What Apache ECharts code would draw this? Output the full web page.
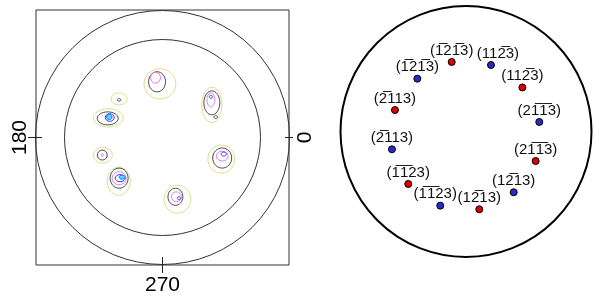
<!DOCTYPE html>
<html>
<head>
<meta charset="utf-8">
<script src="https://cdn.jsdelivr.net/npm/echarts@6/dist/echarts.min.js"></script>
<style>
  html, body { margin: 0; padding: 0; background: #fff; }
  #chart { width: 596px; height: 299px; }
</style>
</head>
<body>
<div id="chart"></div>
<script>
// left pole figure: contour levels as ellipses [x, y, rx, ry] in unit-circle coords
const yellowLevel = [
  [-0.020, 0.421, 0.126, 0.118], [0.390, 0.256, 0.079, 0.138], [-0.343, 0.303, 0.063, 0.047],
  [-0.429, 0.154, 0.118, 0.071], [-0.472, -0.138, 0.075, 0.063], [0.465, -0.169, 0.106, 0.110],
  [-0.346, -0.343, 0.091, 0.110], [0.118, -0.484, 0.106, 0.110]
]
const blackLevel = [
  [-0.043, 0.437, 0.067, 0.079], [0.390, 0.272, 0.063, 0.094], [0.421, 0.161, 0.014, 0.012],
  [-0.343, 0.295, 0.014, 0.010], [-0.433, 0.150, 0.083, 0.051], [-0.476, -0.138, 0.039, 0.039],
  [0.472, -0.161, 0.075, 0.079], [-0.343, -0.319, 0.071, 0.079], [0.102, -0.465, 0.059, 0.067]
]
const pinkLevel = [
  [-0.055, 0.469, 0.039, 0.043], [0.382, 0.295, 0.031, 0.055], [-0.476, -0.138, 0.008, 0.012],
  [0.472, -0.146, 0.047, 0.039], [-0.343, -0.319, 0.055, 0.051], [0.110, -0.465, 0.039, 0.039]
]
const blueLevel = [
  [0.382, 0.319, 0.012, 0.012], [-0.417, 0.157, 0.035, 0.030], [0.484, -0.130, 0.020, 0.016],
  [-0.335, -0.319, 0.039, 0.028], [0.130, -0.476, 0.012, 0.012]
]
const cyanLevel = [
  [-0.421, 0.161, 0.022, 0.020], [-0.319, -0.311, 0.024, 0.016]
]
const leftTickLabels = ['0', '180', '270']

// right projection: poles in unit-circle coords
const redPoints = [[-0.114, 0.554], [0.449, 0.351], [-0.566, 0.171], [0.555, -0.235], [-0.460, -0.418], [0.106, -0.620]]
const redLabels = ['(1\u030521\u03053)', '(112\u03053)', '(2\u0305113)', '(21\u03051\u03053)', '(1\u03051\u030523)', '(12\u030513)']
const bluePoints = [[0.199, 0.530], [-0.388, 0.421], [0.584, 0.076], [-0.590, -0.142], [0.380, -0.484], [-0.205, -0.591]]
const blueLabels = ['(112\u03053)', '(1\u030521\u03053)', '(21\u03051\u03053)', '(2\u0305113)', '(12\u030513)', '(1\u03051\u030523)']

const font = 'Liberation Sans'
// a couple of labels are pushed sideways so they do not overlap
const labelNudge = { blue: { 0: [7, 0], 5: [-5, 0] } }

function ellipseLevel(fill) {
  return function(params, api) {
    const c = api.coord([api.value(0), api.value(1)])
    const s = api.size([api.value(2), api.value(3)])
    return {
      type: 'ellipse',
      shape: { cx: c[0], cy: c[1], rx: s[0], ry: s[1] },
      style: { fill: fill || 'none', stroke: api.visual('color'), lineWidth: 1 }
    }
  }
}

function contourSeries(data, color, fill) {
  return {
    type: 'custom',
    xAxisIndex: 0,
    yAxisIndex: 0,
    itemStyle: { color: color },
    renderItem: ellipseLevel(fill),
    data: data,
    silent: true
  }
}

function poleSeries(points, labels, color, key) {
  const nudge = labelNudge[key] || {}
  return {
    type: 'scatter',
    xAxisIndex: 2,
    yAxisIndex: 4,
    symbol: 'circle',
    symbolSize: 7,
    itemStyle: { color: color, borderColor: '#000', borderWidth: 1, opacity: 1 },
    label: {
      show: true,
      position: 'top',
      distance: 0,
      formatter: '{b}',
      color: '#111',
      fontFamily: font,
      fontSize: 15
    },
    data: points.map((p, i) => ({
      value: p,
      name: labels[i],
      label: nudge[i] ? { offset: nudge[i] } : undefined
    }))
  }
}

function tick(len, inside) {
  return { show: true, inside: !!inside, customValues: [0], length: len, lineStyle: { color: '#222', width: 1 } }
}

function tickAxis(extra) {
  return Object.assign({
    type: 'value',
    gridIndex: 0,
    min: -1,
    max: 1,
    axisLine: { show: false, onZero: false },
    splitLine: { show: false },
    axisLabel: { show: false },
    axisTick: tick(7),
    nameTextStyle: { fontFamily: font, fontSize: 21, color: '#000' }
  }, extra)
}

function ringAxis(i) {
  return { polarIndex: i, type: 'value', min: 0, max: 360, axisLine: { show: true, lineStyle: { color: i === 2 ? '#000' : '#333', width: i === 2 ? 2 : 1 } },
    axisTick: { show: false }, axisLabel: { show: false }, splitLine: { show: false } }
}

const chart = echarts.init(document.getElementById('chart'))
chart.setOption({
  animation: false,
  backgroundColor: '#fff',
  polar: [
    { center: [162.5, 137.5], radius: [0, 127] },
    { center: [162.5, 137.5], radius: [0, 98] },
    { center: [466, 131.5], radius: [0, 125.5] }
  ],
  angleAxis: [ringAxis(0), ringAxis(1), ringAxis(2)],
  radiusAxis: [0, 1, 2].map(i => ({ polarIndex: i, type: 'value', min: 0, max: 1, axisLine: { show: false },
    axisTick: { show: false }, axisLabel: { show: false }, splitLine: { show: false } })),
  grid: [
    { left: 36, top: 10, width: 253, height: 255, show: true, borderColor: '#333', borderWidth: 1, outerBoundsMode: 'none' },
    { left: 340.5, top: 6, width: 251, height: 251, outerBoundsMode: 'none' }
  ],
  xAxis: [
    tickAxis({ position: 'bottom', axisTick: tick(8), name: leftTickLabels[2], nameLocation: 'middle', nameGap: 10 }),
    tickAxis({ position: 'bottom', axisTick: tick(8, true) }),
    { type: 'value', gridIndex: 1, min: -1, max: 1, show: false }
  ],
  yAxis: [
    tickAxis({ position: 'left', axisTick: tick(8), name: leftTickLabels[1], nameLocation: 'middle', nameRotate: 90, nameGap: 5 }),
    tickAxis({ position: 'left', axisTick: tick(6, true) }),
    tickAxis({ position: 'right', axisTick: tick(4), name: leftTickLabels[0], nameLocation: 'middle', nameRotate: 90, nameGap: 6 }),
    tickAxis({ position: 'right', axisTick: tick(4, true) }),
    { type: 'value', gridIndex: 1, min: -1, max: 1, show: false }
  ],
  series: [
    contourSeries(yellowLevel, '#dede8e'),
    contourSeries(blackLevel, '#4a4a4a'),
    contourSeries(pinkLevel, '#e77be7'),
    contourSeries(blueLevel, '#3535ff'),
    contourSeries(cyanLevel, '#2f6cff', '#45e0ff'),
    poleSeries(redPoints, redLabels, '#dd0000', 'red'),
    poleSeries(bluePoints, blueLabels, '#2a2ac8', 'blue')
  ]
})
</script>
</body>
</html>
